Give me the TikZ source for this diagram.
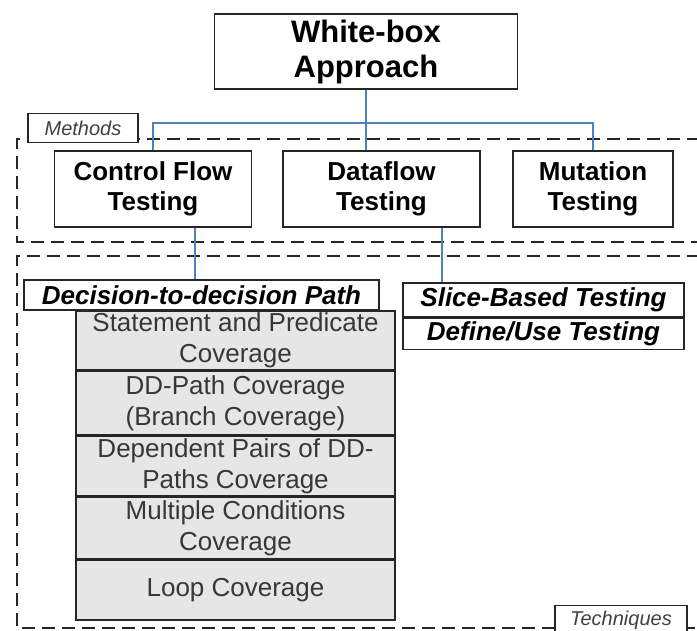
\documentclass[tikz,border=0pt]{standalone}
\usepackage{fontspec}
\setmainfont{Liberation Sans}
\usetikzlibrary{positioning,calc}

\definecolor{linkblue}{RGB}{79,129,189}
\definecolor{rowgray}{RGB}{230,230,230}
\definecolor{rowtext}{RGB}{55,55,55}

\tikzset{
  box/.style={draw=black!85,line width=1.6pt,fill=white,inner sep=0pt,align=center,
    font=\fontsize{26}{30}\selectfont\bfseries},
  row/.style={draw=black!85,line width=1.6pt,fill=rowgray,inner sep=0pt,align=center,
    minimum width=319pt,text=rowtext,font=\fontsize{26}{31}\selectfont},
  tag/.style={draw=black!85,line width=1.2pt,fill=white,inner sep=0pt,
    text=black!75,font=\fontsize{20}{22}\selectfont\itshape},
  zone/.style={line width=1.8pt,black!85,dash pattern=on 13pt off 7pt},
  link/.style={linkblue,line width=2pt}
}

\begin{document}
\begin{tikzpicture}[x=1pt,y=-1pt]
  \useasboundingbox (0,0) rectangle (697,630);

  %zones
  \draw[zone] (720,139) -- (17,139) -- (17,242) -- (720,242);
  \draw[zone] (720,256) -- (17,256) -- (17,628) -- (720,628);

  %approach
  \node[box,minimum width=303pt,minimum height=75pt,
    font=\fontsize{31}{35}\selectfont\bfseries] (wb) at (366,51.5) {White-box\\Approach};

  %methods
  \node[box,minimum width=197pt,minimum height=76pt] (cft) at (153,189) {Control Flow\\Testing};
  \node[box,minimum width=197pt,minimum height=76pt] (dft) at (381.5,189) {Dataflow\\Testing};
  \node[box,minimum width=160pt,minimum height=76pt] (mut) at (593,189) {Mutation\\Testing};
  \node[tag,minimum width=110pt,minimum height=29pt] (meth) at (83,128) {Methods};

  \coordinate (bus) at (0,123);
  \draw[link] (wb.south) -- (wb.south |- dft.north);
  \draw[link] (cft.north) -- (cft.north |- bus) -| (mut.north);

  %techniques
  \node[box,font=\fontsize{26}{30}\selectfont\bfseries\itshape,
    minimum width=355pt,minimum height=30pt] (ddp) at (201.5,295) {Decision-to-decision Path};
  \node[row,minimum height=59pt,anchor=north] (r1) at (235.5,310) {Statement and Predicate\\Coverage};
  \node[row,minimum height=63pt,below=0pt of r1] (r2) {DD-Path Coverage\\(Branch Coverage)};
  \node[row,minimum height=60pt,below=0pt of r2] (r3) {Dependent Pairs of DD-\\Paths Coverage};
  \node[row,minimum height=61pt,below=0pt of r3] (r4) {Multiple Conditions\\Coverage};
  \node[row,minimum height=60pt,below=0pt of r4] (r5) {Loop Coverage};

  \node[box,font=\fontsize{26}{30}\selectfont\bfseries\itshape,
    minimum width=281pt,minimum height=34pt] (sbt) at (543.5,300) {Slice-Based Testing};
  \node[box,font=\fontsize{26}{30}\selectfont\bfseries\itshape,
    minimum width=281pt,minimum height=31pt,below=0pt of sbt] (dut) {Define/Use Testing};

  \draw[link] ([xshift=42pt]cft.south) -- ([xshift=42pt]cft.south |- ddp.north);
  \draw[link] ([xshift=60.5pt]dft.south) -- ([xshift=60.5pt]dft.south |- sbt.north);

  \node[tag,minimum width=132pt,minimum height=30pt,anchor=north] (tech) at (621,605) {Techniques};
\end{tikzpicture}
\end{document}
